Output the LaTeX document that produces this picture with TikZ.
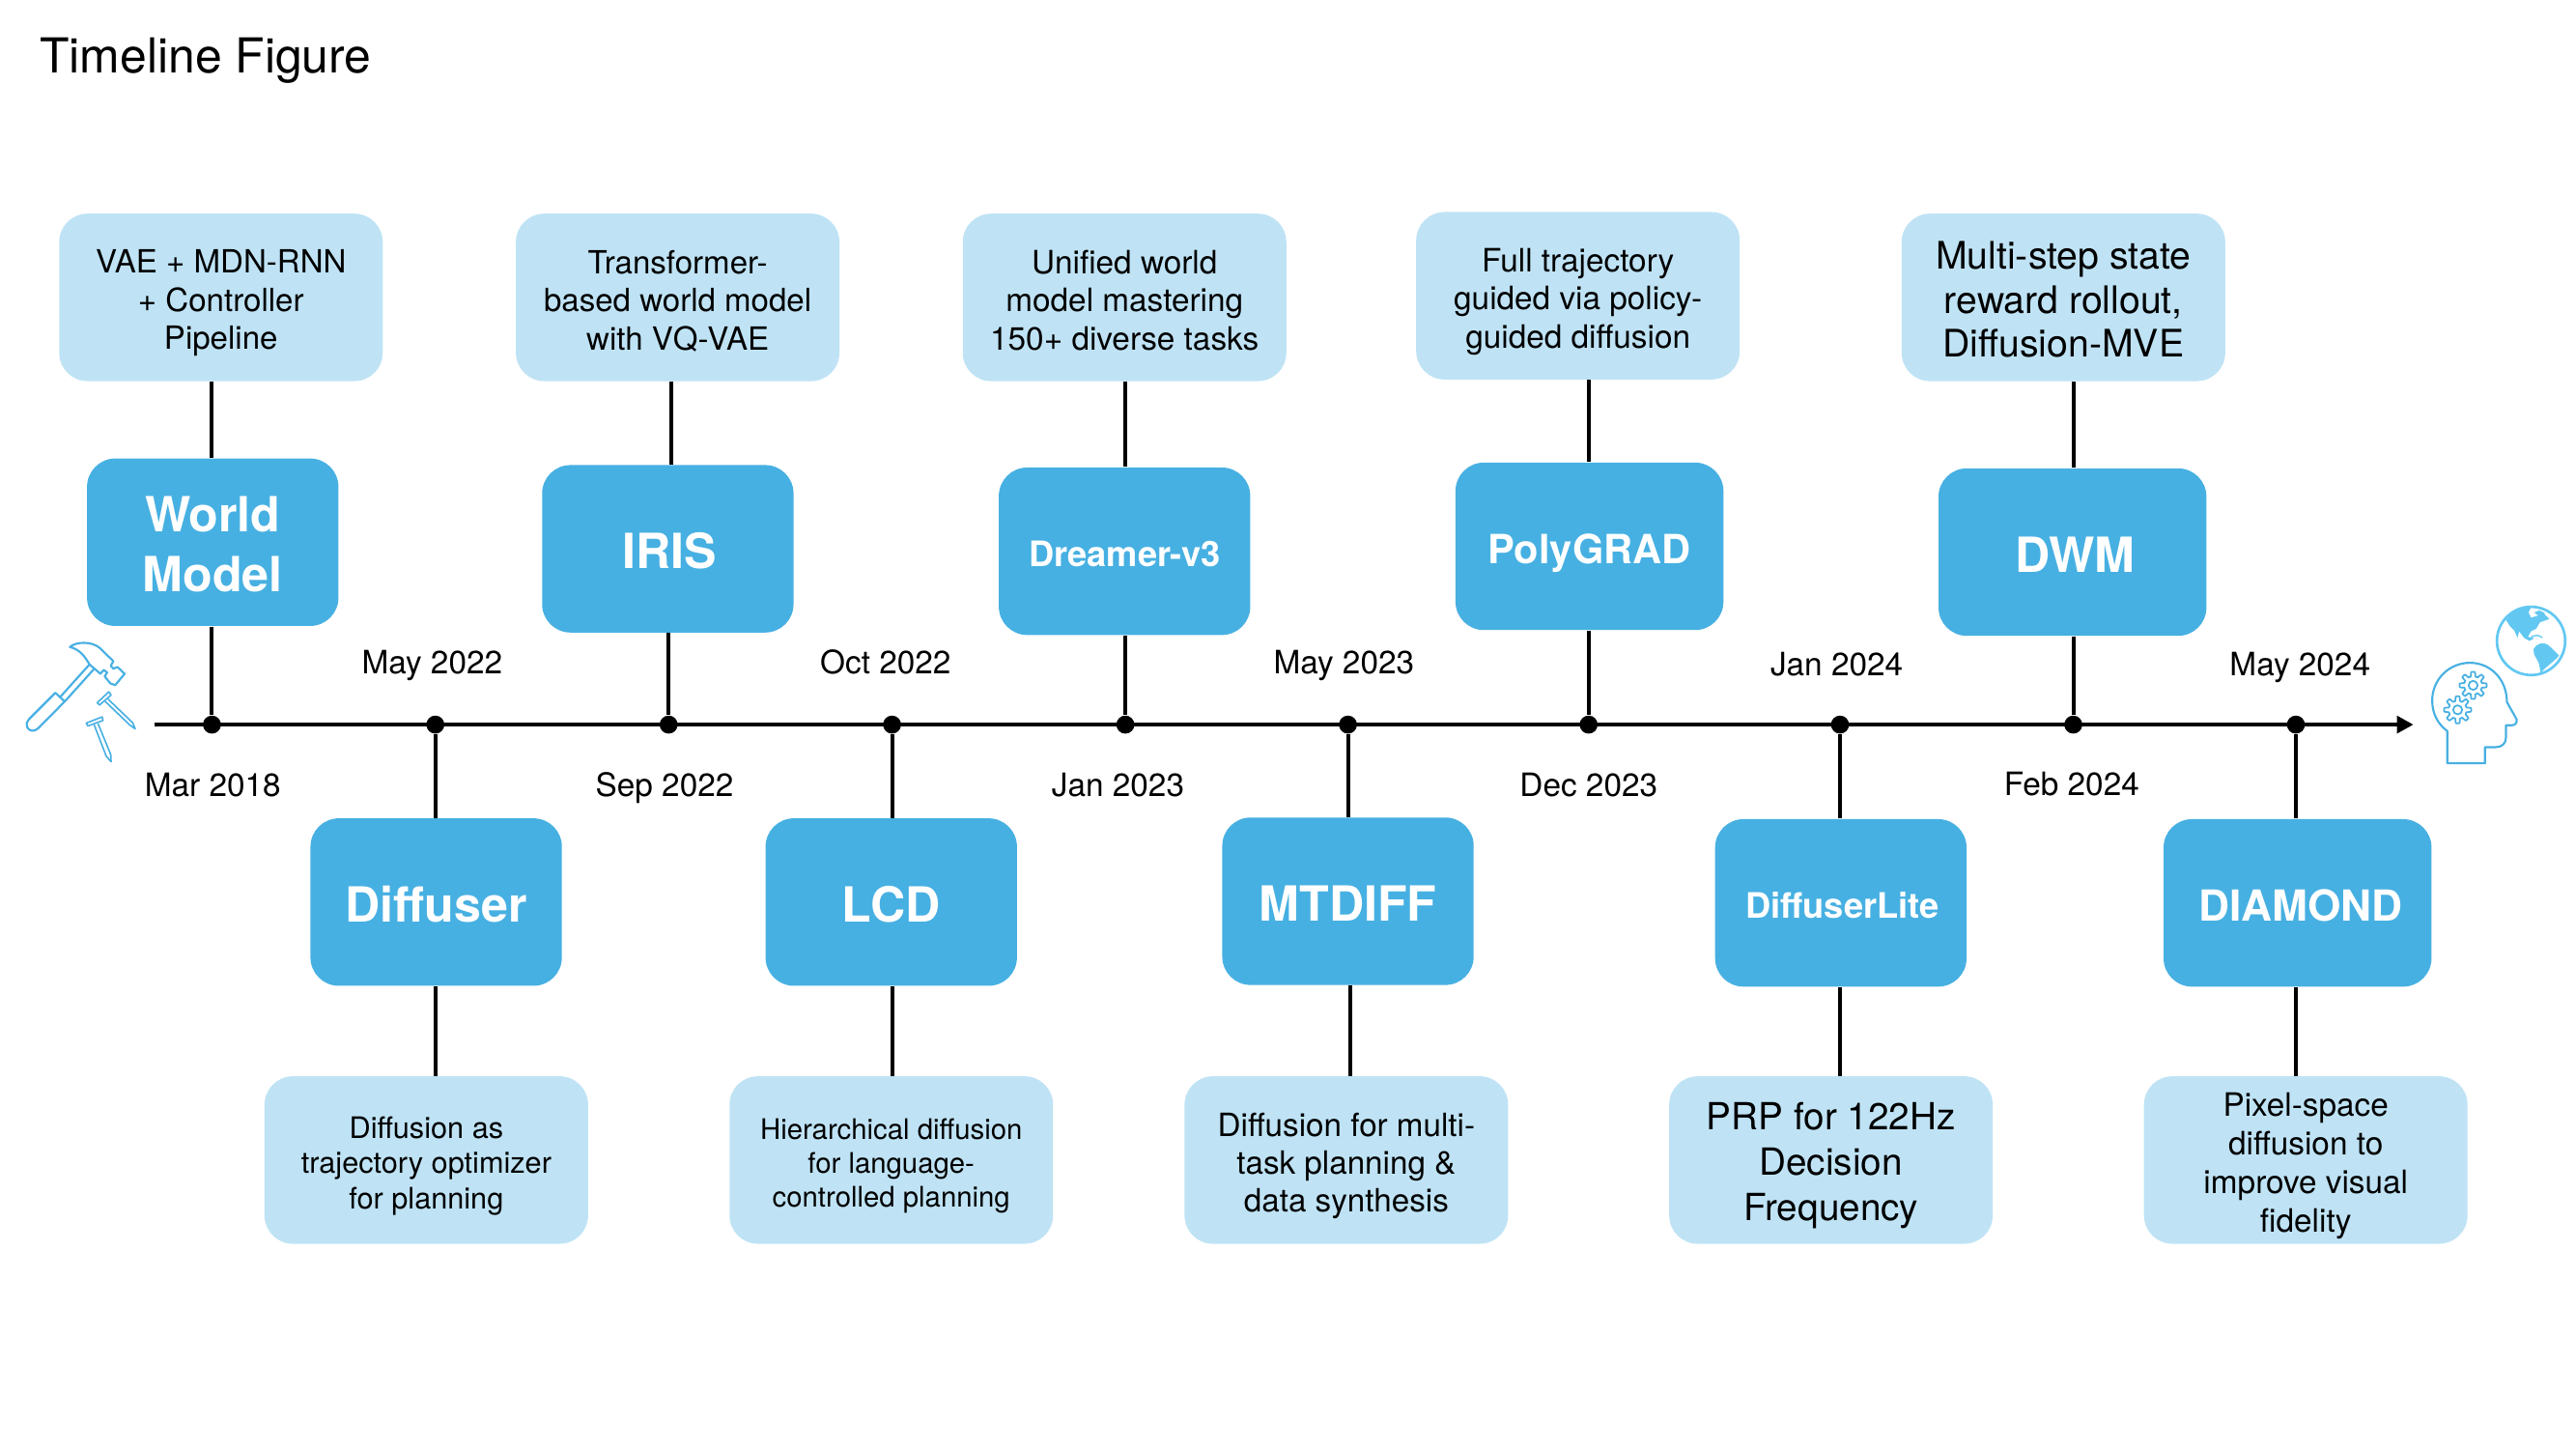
\documentclass[tikz,border=0pt]{standalone}
\usepackage{fontspec}
\setmainfont{TeX Gyre Heros}
\usetikzlibrary{arrows.meta}
\definecolor{lightblue}{HTML}{BFE3F5}
\definecolor{darkblue}{HTML}{47B0E2}
\definecolor{globeblue}{HTML}{62C8F2}
\newcommand\fs[2]{\fontsize{#1}{#2}\selectfont}
% vertical calibration of the text inside the boxes
\newcommand\fixtop{\rule{0pt}{\dimexpr.73em+4.6pt\relax}}
\newcommand\fixbot{\rule[-.21em]{0pt}{0pt}}
\newcommand\capline{\rule{0pt}{\dimexpr.72em+2pt\relax}}
\newcommand\oneline[1]{\smash{#1}\capline}
\tikzset{
  box/.style={rounded corners=11pt,inner sep=0pt,align=center,anchor=center},
  lightbox/.style={box,fill=lightblue,text=black,minimum width=125.6pt,minimum height=65pt,font=\fs{12.4}{14.8}},
  darkbox/.style={box,fill=darkblue,text=white,minimum width=97.6pt,minimum height=65pt,font=\fs{18.8}{23.2}\bfseries},
  widedark/.style={darkbox,minimum width=104pt},
  datelabel/.style={inner sep=0pt,font=\fs{12.5}{15},anchor=base},
  dot/.style={circle,fill=black,inner sep=0pt,minimum size=7pt},
  link/.style={black,line width=1.5pt},
  icon/.style={darkblue,line width=.8pt,line join=round,line cap=round},
}
\begin{document}
\begin{tikzpicture}[x=0.63776pt,y=-0.63776pt]
\useasboundingbox (0,0) rectangle (1568,882);
\fill[white] (0,0) rectangle (1568,882);
\node[inner sep=0pt,anchor=west,font=\fs{18.7}{22}] (title) at (24,37) {Timeline Figure};

% axis
\coordinate (axisL) at (94,441);
\coordinate (axisR) at (1469,441);
\draw[link,-{Triangle[length=6.4pt,width=6.6pt]}] (axisL) -- (axisR);
\foreach \n/\x in {1/129,2/265,3/407,4/543,5/685,6/820.5,7/967,8/1120,9/1262,10/1397.5}
  \node[dot] (p\n) at (\x,441) {};

% top light boxes
\node[lightbox] (l1) at (134.5,181) {\fixtop VAE + MDN-RNN\\+ Controller\\Pipeline\fixbot};
\node[lightbox] (l3) at (412.5,181) {\fixtop Transformer-\\based world model\\with VQ-VAE\fixbot};
\node[lightbox,font=\fs{12.5}{14.8}] (l5) at (684.5,181) {\fixtop Unified world\\model mastering\\150+ diverse tasks\fixbot};
\node[lightbox,font=\fs{12.5}{14.8}] (l7) at (960.5,180) {\fixtop Full trajectory\\guided via policy-\\guided diffusion\fixbot};
\node[lightbox,font=\fs{14.7}{17}] (l9) at (1256,181) {\fixtop Multi-step state\\reward rollout,\\Diffusion-MVE\fixbot};
% top dark boxes
\node[darkbox] (d1) at (129.5,330) {\capline World\\Model};
\node[darkbox] (d3) at (406.5,334) {\hspace*{1.2pt}\oneline{IRIS}};
\node[darkbox,font=\fs{13.6}{16}\bfseries] (d5) at (684.5,335.5) {\oneline{Dreamer-v3}};
\node[widedark,font=\fs{15.6}{18}\bfseries] (d7) at (967.5,332.5) {\oneline{PolyGRAD}};
\node[widedark] (d9) at (1261.5,336) {\hspace*{2pt}\oneline{DWM}};
% bottom dark boxes
\node[darkbox] (d2) at (265.5,549) {\oneline{Diffuser}};
\node[darkbox] (d4) at (542.5,549) {\oneline{LCD}};
\node[darkbox] (d6) at (820.5,548.5) {\oneline{MTDIFF}};
\node[darkbox,font=\fs{13.6}{16}\bfseries] (d8) at (1120.5,549.5) {\hspace*{1.2pt}\oneline{DiffuserLite}};
\node[widedark,font=\fs{16.6}{19}\bfseries] (d10) at (1398.5,549.5) {\hspace*{2.5pt}\oneline{DIAMOND}};
% bottom light boxes
\node[lightbox,font=\fs{11.5}{13.7}] (l2) at (259.5,706) {\fixtop Diffusion as\\trajectory optimizer\\for planning\fixbot};
\node[lightbox,font=\fs{11}{13.1}] (l4) at (542.5,706) {\fixtop Hierarchical diffusion\\for language-\\controlled planning\fixbot};
\node[lightbox,font=\fs{12.45}{14.8}] (l6) at (819.5,706) {\fixtop Diffusion for multi-\\task planning \&\\data synthesis\fixbot};
\node[lightbox,font=\fs{14.5}{17.6}] (l8) at (1114.5,706) {\fixtop PRP for 122Hz\\Decision\\Frequency\fixbot};
\node[lightbox,font=\fs{12.5}{15}] (l10) at (1403.5,706) {\fixtop Pixel-space\\diffusion to\\improve visual\\fidelity\fixbot};

% connectors
\foreach \n in {1,5,7,9}{
  \draw[link] (p\n |- l\n.south) -- (p\n |- d\n.north);
  \draw[link] (p\n |- d\n.south) -- (p\n);
}
\draw[link] ([xshift=1.2pt]p3 |- l3.south) -- ([xshift=1.2pt]p3 |- d3.north);
\draw[link] (p3 |- d3.south) -- (p3);
\foreach \n in {2,4,8,10}{
  \draw[link] (p\n) -- (p\n |- d\n.north);
  \draw[link] (p\n |- d\n.south) -- (p\n |- l\n.north);
}
\draw[link] (p6) -- (p6 |- d6.north);
\draw[link] ([xshift=.8pt]p6 |- d6.south) -- ([xshift=.8pt]p6 |- l6.north);

% dates
\node[datelabel] (t1) at (129.5,485) {Mar 2018};
\node[datelabel] (t2) at (263,410) {May 2022};
\node[datelabel] (t3) at (404.5,485) {Sep 2022};
\node[datelabel] (t4) at (539,410) {Oct 2022};
\node[datelabel] (t5) at (680.5,485) {Jan 2023};
\node[datelabel] (t6) at (818,410) {May 2023};
\node[datelabel] (t7) at (967,485) {Dec 2023};
\node[datelabel] (t8) at (1118,411) {Jan 2024};
\node[datelabel] (t9) at (1261,484) {Feb 2024};
\node[datelabel] (t10) at (1400,411) {May 2024};

% tools icon
\begin{scope}[shift={(0,364.6)},x=0.125pt,y=-0.125pt]
  \draw[icon] (172,291) -- (201,318) -- (119,401) .. controls (105,414) and (90,410) .. (84,397) .. controls (80,388) and (84,380) .. (90,373) -- cycle;
  \draw[icon] (186,305) -- (278,203);
  \draw[icon] (203,316) -- (293,216);
  \draw[icon] (217,149) .. controls (235,132) and (285,130) .. (310,152) -- (352,193) -- (344,207) -- (352,216) -- (365,211) -- (387,232) -- (358,267) -- (343,262) -- (325,240) -- (333,228) -- (322,220) -- (312,232) -- (278,203) .. controls (262,175) and (245,155) .. (217,149) -- cycle;
  \draw[icon,line width=.6pt] (302,322) -- (338,288) -- (345,298) -- (309,329) -- cycle;
  \draw[icon,line width=.6pt] (336,311) -- (412,384) -- (420,403) -- (403,391) -- (327,318);
  \draw[icon,line width=.6pt] (268,385) -- (317,366) -- (320,377) -- (273,394) -- cycle;
  \draw[icon,line width=.6pt] (293,392) -- (330,488) -- (345,505) -- (344,483) -- (305,388);
\end{scope}

% head and globe icon
\begin{scope}[shift={(1434.8,358.7)},x=0.125pt,y=-0.125pt]
  \draw[icon] (280,440) .. controls (250,418) and (233,385) .. (233,345) .. controls (233,280) and (285,228) .. (350,228) .. controls (415,228) and (465,280) .. (465,350) -- (495,403) .. controls (498,415) and (490,422) .. (480,422) -- (462,422) -- (462,460) .. controls (462,478) and (450,490) .. (430,490) -- (397,490) -- (397,540) -- (280,540) -- cycle;
  \foreach \cx/\cy in {360/298,312/374}{
    \draw[icon,line width=.65pt] plot[domain=0:360,samples=145] ({\cx+(35+7*max(-1,min(1,2*cos(8*\x))))*cos(\x)},{\cy+(35+7*max(-1,min(1,2*cos(8*\x))))*sin(\x)}) -- cycle;
    \draw[icon,line width=.65pt] (\cx,\cy) circle[radius=14];
  }
  \draw[globeblue,line width=1pt] (540,160) circle[radius=106];
  \begin{scope}
    \clip (540,160) circle[radius=106];
    \fill[globeblue] (462,95) -- (480,72) -- (510,58) -- (540,55) -- (532,72) -- (540,88) -- (560,82) -- (575,70) -- (597,92) -- (568,102) -- (556,122) -- (540,130) -- (530,147) -- (550,152) -- (535,160) -- (518,150) -- (503,130) -- (498,150) -- (488,128) -- (475,115) -- cycle;
    \fill[globeblue] (550,72) -- (565,65) -- (585,75) -- (560,80) -- cycle;
    \fill[globeblue] (548,185) .. controls (555,168) and (580,160) .. (597,176) -- (627,205) .. controls (612,225) and (590,235) .. (570,260) -- (565,232) .. controls (560,215) and (545,205) .. (548,185) -- cycle;
    \draw[globeblue,line width=.5pt] (540,148) .. controls (555,140) and (565,142) .. (575,150);
  \end{scope}
\end{scope}
\end{tikzpicture}
\end{document}
